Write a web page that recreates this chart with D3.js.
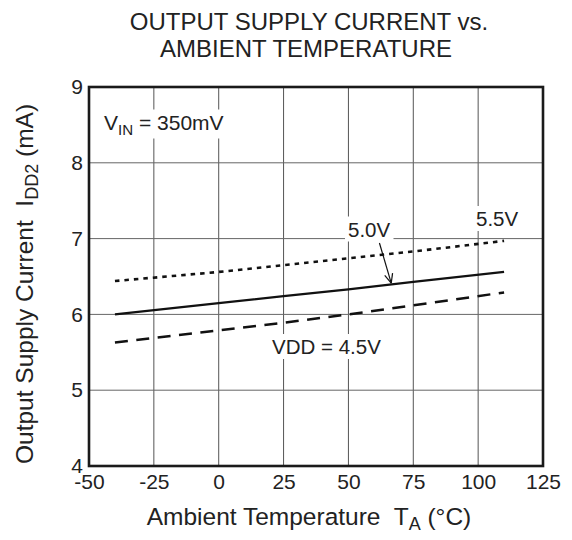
<!DOCTYPE html>
<html><head><meta charset="utf-8">
<script src="https://cdn.jsdelivr.net/npm/d3@7"></script>
<style>
html,body{margin:0;padding:0;background:#fff;}
text{font-family:"Liberation Sans",Arial,Helvetica,sans-serif;fill:#222;white-space:pre;}
</style></head>
<body>
<script>
// ---- data ----
const temps = [-40, 0, 25, 50, 75, 110];
const vdd45 = [5.63, 5.79, 5.89, 6.00, 6.12, 6.29];
const vdd50 = [6.00, 6.15, 6.24, 6.33, 6.43, 6.56];
const vdd55 = [6.44, 6.56, 6.65, 6.74, 6.83, 6.97];
const xTicks = [-50, -25, 0, 25, 50, 75, 100, 125];
const yTicks = [4, 5, 6, 7, 8, 9];
const titleLines = ["OUTPUT SUPPLY CURRENT vs.", "AMBIENT TEMPERATURE"];

const W = 572, H = 540;
const m = {l: 89, r: 543, t: 87, b: 466};

const svg = d3.select("body").append("svg").attr("width", W).attr("height", H);
const x = d3.scaleLinear().domain([-50, 125]).range([m.l, m.r]);
const y = d3.scaleLinear().domain([4, 9]).range([m.b, m.t]);

// grid
const g = svg.append("g");
g.selectAll(".vg").data(xTicks.slice(1, -1)).join("line")
  .attr("x1", d => x(d)).attr("x2", d => x(d)).attr("y1", m.t).attr("y2", m.b)
  .attr("stroke", "#555").attr("stroke-width", 1);
g.selectAll(".hg").data(yTicks.slice(1, -1)).join("line")
  .attr("y1", d => y(d)).attr("y2", d => y(d)).attr("x1", m.l).attr("x2", m.r)
  .attr("stroke", "#666").attr("stroke-width", 1);

// axes (labels only)
const xAxis = d3.axisBottom(x).tickValues(xTicks).tickSize(0).tickPadding(8)
  .tickFormat(d => String(d));
const xa = svg.append("g").attr("transform", `translate(0,${m.b})`).call(xAxis);
xa.select(".domain").remove();
xa.selectAll("text").attr("font-size", 21).attr("fill", "#222")
  .attr("font-family", "Liberation Sans, Arial, sans-serif").attr("dy", "0.71em");

const yAxis = d3.axisLeft(y).tickValues(yTicks).tickSize(0).tickPadding(6)
  .tickFormat(d => String(d));
const ya = svg.append("g").attr("transform", `translate(${m.l},0)`).call(yAxis);
ya.select(".domain").remove();
ya.selectAll("text").attr("font-size", 21).attr("fill", "#222")
  .attr("font-family", "Liberation Sans, Arial, sans-serif");

// labels with white backgrounds
function label(xp, yp, parts, size, anchor) {
  const grp = svg.append("g");
  const t = grp.append("text").attr("x", xp).attr("y", yp)
    .attr("font-size", size).attr("text-anchor", anchor || "start");
  parts.forEach(p => {
    const ts = t.append("tspan").text(p.t);
    if (p.sub) ts.attr("font-size", size * 0.72).attr("dy", 5);
    if (p.up) ts.attr("dy", -5);
  });
  const bb = t.node().getBBox();
  grp.insert("rect", "text").attr("x", bb.x - 3).attr("y", bb.y - 1)
    .attr("width", bb.width + 6).attr("height", bb.height + 2).attr("fill", "#fff");
  return grp;
}

// series
const line = d3.line().x(d => x(d[0])).y(d => y(d[1]));
const series = [
  {v: vdd45, dash: "13,8.5", w: 2.5},
  {v: vdd50, dash: null, w: 2.3},
  {v: vdd55, dash: "4.5,5", w: 2.6}
];
series.forEach(s => {
  svg.append("path").datum(temps.map((t, i) => [t, s.v[i]]))
    .attr("d", line).attr("fill", "none").attr("stroke", "#111")
    .attr("stroke-width", s.w).attr("stroke-dasharray", s.dash);
});

label(104, 129.5, [{t: "V"}, {t: "IN", sub: true}, {t: " = 350mV", up: true}], 21);
label(348, 236.5, [{t: "5.0V"}], 20.5);
label(476, 226, [{t: "5.5V"}], 20.5);
label(272, 354, [{t: "VDD = 4.5V"}], 20.5);

// arrow to 5.0V line
const ax1 = x(50) + 31, ay1 = 243;
const tipX = x(66.5), tipY = y(6.40) - 1;
svg.append("line").attr("x1", ax1).attr("y1", ay1).attr("x2", tipX).attr("y2", tipY)
  .attr("stroke", "#111").attr("stroke-width", 1.2);
const ang = Math.atan2(tipY - ay1, tipX - ax1);
[0.42, -0.42].forEach(a => {
  svg.append("line").attr("x1", tipX).attr("y1", tipY)
    .attr("x2", tipX - 10 * Math.cos(ang + a)).attr("y2", tipY - 10 * Math.sin(ang + a))
    .attr("stroke", "#111").attr("stroke-width", 1.2);
});

// frame
svg.append("rect").attr("x", m.l).attr("y", m.t).attr("width", m.r - m.l).attr("height", m.b - m.t)
  .attr("fill", "none").attr("stroke", "#1a1a1a").attr("stroke-width", 2.6);

// title
svg.append("text").attr("x", 309).attr("y", 29.5).attr("text-anchor", "middle")
  .attr("font-size", 24).text(titleLines[0]);
svg.append("text").attr("x", 306).attr("y", 56.5).attr("text-anchor", "middle")
  .attr("font-size", 24).text(titleLines[1]);

// x axis title
const xt = svg.append("text").attr("x", 309).attr("y", 525).attr("text-anchor", "middle").attr("font-size", 24.5);
xt.append("tspan").text("Ambient Temperature  T");
xt.append("tspan").text("A").attr("font-size", 18).attr("dy", 5);
xt.append("tspan").text(" (°C)").attr("dy", -5);

// y axis title
const yt = svg.append("text").attr("transform", "translate(33,284) rotate(-90)")
  .attr("text-anchor", "middle").attr("font-size", 24.5);
yt.append("tspan").text("Output Supply Current  I");
yt.append("tspan").text("DD2").attr("font-size", 18).attr("dy", 5);
yt.append("tspan").text(" (mA)").attr("dy", -5);
</script>
</body></html>
